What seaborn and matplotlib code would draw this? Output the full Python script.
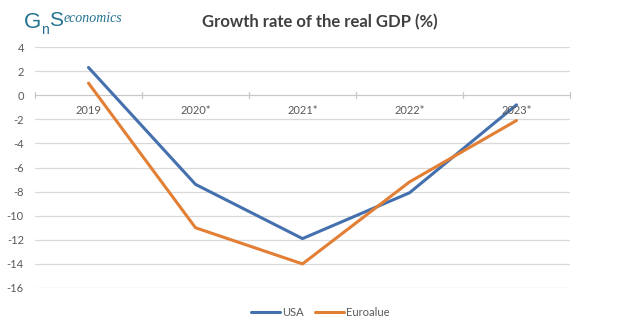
import matplotlib
matplotlib.use("Agg")
import matplotlib.pyplot as plt
from matplotlib.lines import Line2D
import seaborn as sns
import pandas as pd

# Annual growth of real GDP, % (starred years are forecasts)
years = ["2019", "2020*", "2021*", "2022*", "2023*"]
usa = [2.3, -7.4, -11.9, -8.1, -0.8]
euroalue = [1.0, -11.0, -14.0, -7.2, -2.1]
series_names = ["USA", "Euroalue"]
y_ticks = [4, 2, 0, -2, -4, -6, -8, -10, -12, -14, -16]

df = pd.DataFrame({
    "year": years * 2,
    "growth": usa + euroalue,
    "series": [series_names[0]] * len(years) + [series_names[1]] * len(years),
})

sns.set_theme(style="white")
plt.rcParams["font.family"] = ["Lato", "DejaVu Sans"]

blue = "#4470AE"
orange = "#E27F35"
teal = "#237290"
grid_c = "#D9D9D9"
text_c = "#595959"

fig = plt.figure(figsize=(6.4, 3.32), dpi=100)
ax = fig.add_axes([35 / 640, 1 - 288 / 332, (570 - 35) / 640, (288 - 47) / 332])

sns.lineplot(data=df, x="year", y="growth", hue="series",
             palette={"USA": blue, "Euroalue": orange},
             linewidth=2.2, sort=False, legend=False, ax=ax)

ax.set_xlim(-0.5, len(years) - 0.5)
ax.set_ylim(-16, 4)
ax.set_yticks(y_ticks)
ax.set_yticklabels([str(v) for v in y_ticks], color=text_c, fontsize=8)
ax.tick_params(axis="y", length=0, pad=8)
ax.set_xticks([])
ax.set_xlabel("")
ax.set_ylabel("")
for s in ax.spines.values():
    s.set_visible(False)

# horizontal gridlines, darker zero axis
for v in y_ticks:
    ax.axhline(v, color=grid_c if v != 0 else "#C8C8C8", lw=0.9, zorder=0)

# category boundary ticks on the zero axis
for b in [i - 0.5 for i in range(len(years) + 1)]:
    ax.plot([b, b], [-0.2, 0.3], color="#C8C8C8", lw=0.9, zorder=0,
            clip_on=False)

# category labels sit just below the zero axis
for i, lab in enumerate(years):
    ax.text(i, -1.25, lab, ha="center", va="center", fontsize=8,
            color=text_c)

fig.text(0.5, 1 - 22 / 332, "Growth rate of the real GDP (%)",
         ha="center", va="center", fontsize=12, fontweight="bold",
         color="#404040")

# logo
fig.text(24 / 640, 1 - 22 / 332, "G", fontsize=16, color=teal,
         family="Liberation Sans", va="center", ha="left")
fig.text(41.5 / 640, 1 - 30 / 332, "n", fontsize=10, color=teal,
         family="Liberation Sans", va="center", ha="left")
fig.text(49 / 640, 1 - 21 / 332, "S", fontsize=15, color=teal,
         family="Liberation Sans", va="center", ha="left")
fig.text(63.5 / 640, 1 - 19 / 332, "economics", fontsize=10, color=teal,
         family="Liberation Serif", style="italic", va="center", ha="left")

handles = [Line2D([0], [0], color=blue, lw=2.2),
           Line2D([0], [0], color=orange, lw=2.2)]
fig.legend(handles, series_names, loc="center",
           bbox_to_anchor=(0.5, 1 - 312 / 332), ncol=2, frameon=False,
           fontsize=8, handlelength=2.6, handletextpad=0.2,
           columnspacing=1.0, labelcolor=text_c)

fig.savefig("out.png", dpi=100, facecolor="white")
